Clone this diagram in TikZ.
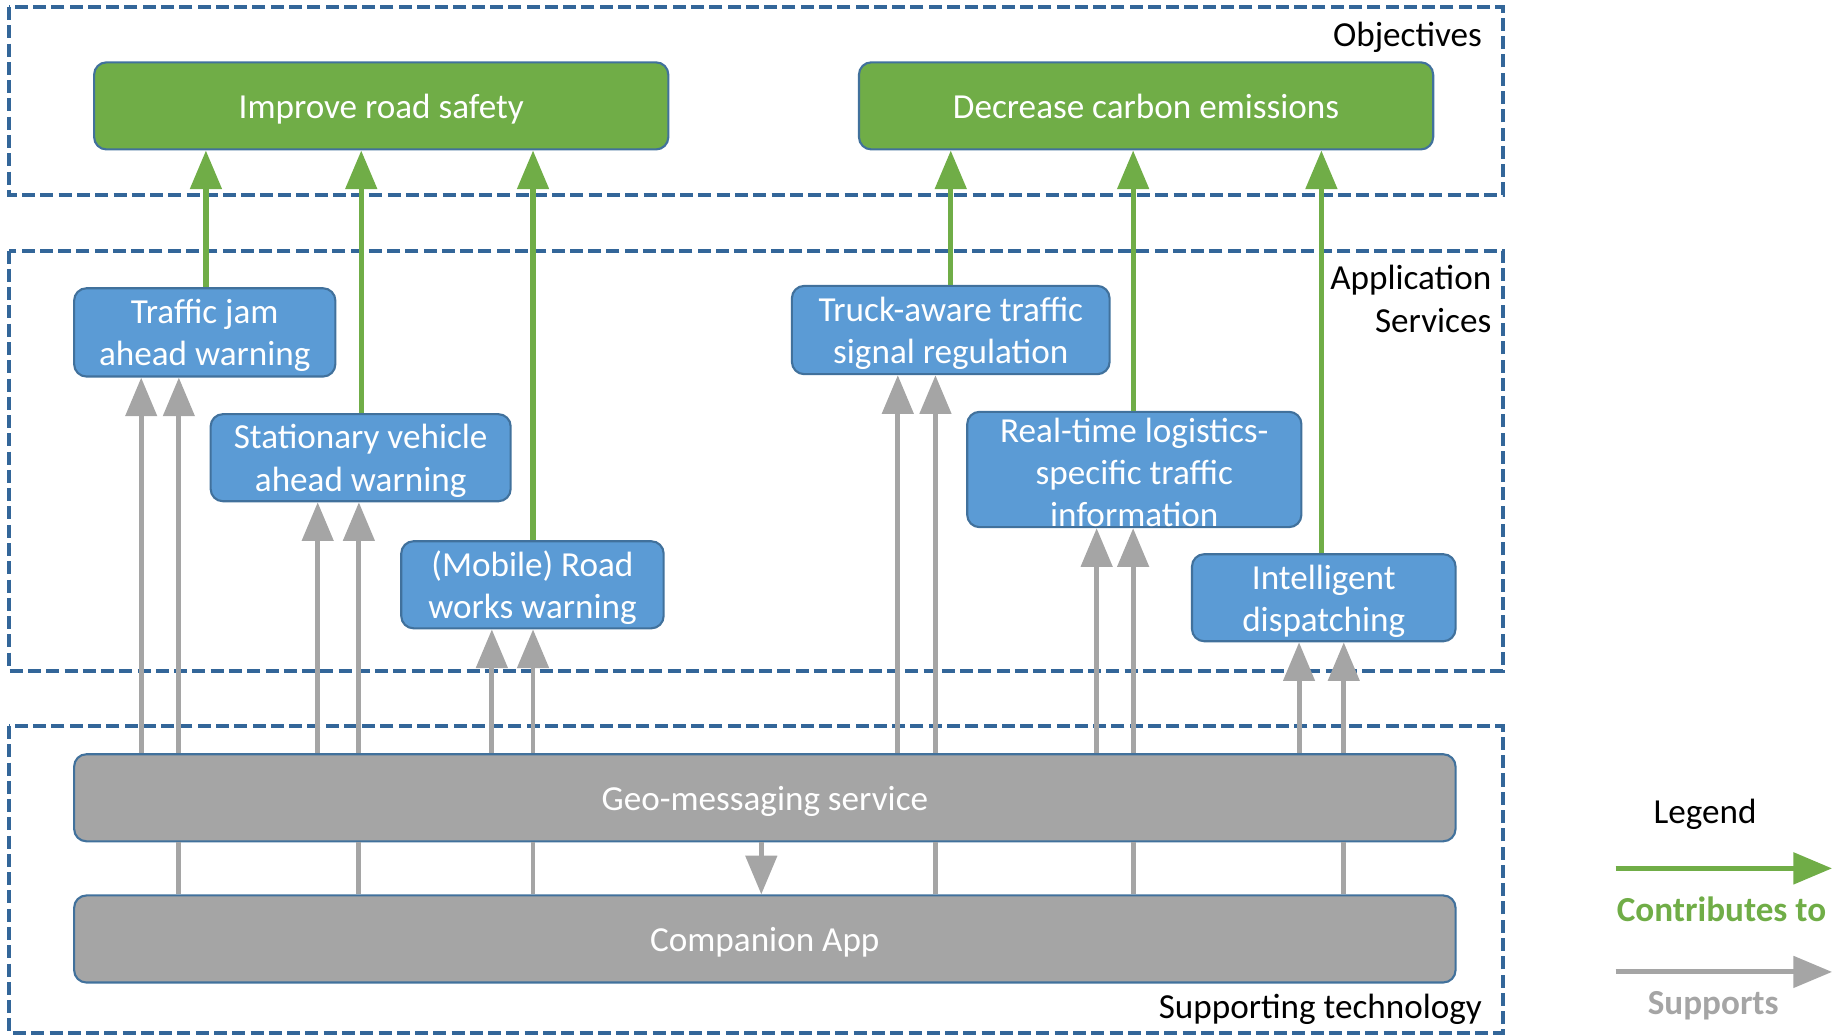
\documentclass[tikz,border=0pt]{standalone}
\usepackage{fontspec}
\setmainfont{Carlito}
\usetikzlibrary{arrows.meta}
\definecolor{ogreen}{HTML}{70AD47}
\definecolor{oblue}{HTML}{5B9BD5}
\definecolor{ogray}{HTML}{A5A5A5}
\definecolor{oline}{HTML}{41719C}
\definecolor{odash}{HTML}{336699}
\begin{document}
\begin{tikzpicture}[x=0.3348pt,y=-0.3348pt,
  every node/.style={font=\fontsize{10}{12}\selectfont},
  lowered/.style={execute at begin node={\rule{0pt}{9pt}}},
  boxbase/.style={draw=oline,line width=0.6pt,rounded corners=3.5pt,text=white,inner sep=0pt},
  onel/.style={lowered,text depth=2pt},
  mlab/.style={text=white,align=center,inner sep=0pt,yshift=-0.9pt},
  mtext/.style={label={[mlab]center:{#1}}},
  objbox/.style={boxbase,fill=ogreen},
  svcbox/.style={boxbase,fill=oblue},
  techbox/.style={boxbase,fill=ogray},
  group/.style={draw=odash,line width=1.1pt,dash pattern=on 3.7pt off 1.5pt},
  garrow/.style={draw=ogreen,line width=1.5pt,-{Triangle[length=11pt,width=8.8pt]}},
  sarrow/.style={draw=ogray,line width=1.4pt,-{Triangle[length=11pt,width=8.8pt]}},
  sline/.style={draw=ogray,line width=1.4pt},
  lbl/.style={anchor=east,text=black,inner sep=0pt,align=right}
]
\useasboundingbox (0,0) rectangle (1568,879.6);
% groups
\draw[group] (8,6) rectangle (1277,166);
\draw[group] (8,213) rectangle (1277,570);
\draw[group] (8,617) rectangle (1277,878);
\node[lbl,lowered] (lobj) at (1260,29) {Objectives};
\node[lbl] (lapp) at (1268,254) {Application\\Services};
\node[lbl,lowered] (lsup) at (1260,855) {Supporting technology};
% objectives
\node[objbox,onel,minimum width=488*0.3348pt,minimum height=74*0.3348pt] (imp) at (324,90) {Improve road safety};
\node[objbox,onel,minimum width=488*0.3348pt,minimum height=74*0.3348pt] (dec) at (974,90) {Decrease carbon emissions};
% services
\node[svcbox,minimum width=222*0.3348pt,minimum height=75*0.3348pt,mtext={Traffic jam\\ahead warning}] (tj) at (174,282.5) {};
\node[svcbox,minimum width=255*0.3348pt,minimum height=74*0.3348pt,mtext={Stationary vehicle\\ahead warning}] (sv) at (306.5,389) {};
\node[svcbox,minimum width=223*0.3348pt,minimum height=74*0.3348pt,mtext={(Mobile) Road\\works warning}] (rw) at (452.5,497) {};
\node[svcbox,minimum width=270*0.3348pt,minimum height=75*0.3348pt,mtext={Truck-aware traffic\\signal regulation}] (tr) at (808,280.5) {};
\node[svcbox,minimum width=284*0.3348pt,minimum height=98*0.3348pt,mtext={Real-time logistics-\\specific traffic\\information}] (rt) at (964,399) {};
\node[svcbox,minimum width=224*0.3348pt,minimum height=74*0.3348pt,mtext={Intelligent\\dispatching}] (id) at (1125,508) {};
% technology
\node[techbox,onel,minimum width=1174*0.3348pt,minimum height=74*0.3348pt] (geo) at (650,678) {Geo-messaging service};
\node[techbox,onel,minimum width=1174*0.3348pt,minimum height=74*0.3348pt] (comp) at (650,798) {Companion App};
% contributes-to arrows
\draw[garrow] (175,0 |- tj.north) -- (175,0 |- imp.south);
\draw[garrow] (307,0 |- sv.north) -- (307,0 |- imp.south);
\draw[garrow] (453,0 |- rw.north) -- (453,0 |- imp.south);
\draw[garrow] (808,0 |- tr.north) -- (808,0 |- dec.south);
\draw[garrow] (963,0 |- rt.north) -- (963,0 |- dec.south);
\draw[garrow] (1123,0 |- id.north) -- (1123,0 |- dec.south);
% supports arrows
\foreach \xx in {120,152} \draw[sarrow] (\xx,0 |- geo.north) -- (\xx,0 |- tj.south);
\foreach \xx in {270,305} \draw[sarrow] (\xx,0 |- geo.north) -- (\xx,0 |- sv.south);
\foreach \xx in {418,453} \draw[sarrow] (\xx,0 |- geo.north) -- (\xx,0 |- rw.south);
\foreach \xx in {763,795} \draw[sarrow] (\xx,0 |- geo.north) -- (\xx,0 |- tr.south);
\foreach \xx in {932,963} \draw[sarrow] (\xx,0 |- geo.north) -- (\xx,0 |- rt.south);
\foreach \xx in {1104,1142} \draw[sarrow] (\xx,0 |- geo.north) -- (\xx,0 |- id.south);
\foreach \xx in {152,305,453,795,963,1142} \draw[sline] (\xx,0 |- comp.north) -- (\xx,0 |- geo.south);
\draw[sarrow] (647,0 |- geo.south) -- (647,0 |- comp.north);
% legend
\node[text=black,lowered] (leg) at (1449,689) {Legend};
\coordinate (g1) at (1373,738);
\coordinate (g2) at (1557,738);
\coordinate (s1) at (1373,826);
\coordinate (s2) at (1557,826);
\draw[garrow] (g1) -- (g2);
\draw[sarrow] (s1) -- (s2);
\node[text=ogreen,font=\fontsize{10}{12}\selectfont\bfseries] (lgc) at (1463,773) {Contributes to};
\node[text=ogray,font=\fontsize{10}{12}\selectfont\bfseries,lowered] (lgs) at (1456,851.5) {Supports};
\end{tikzpicture}
\end{document}
